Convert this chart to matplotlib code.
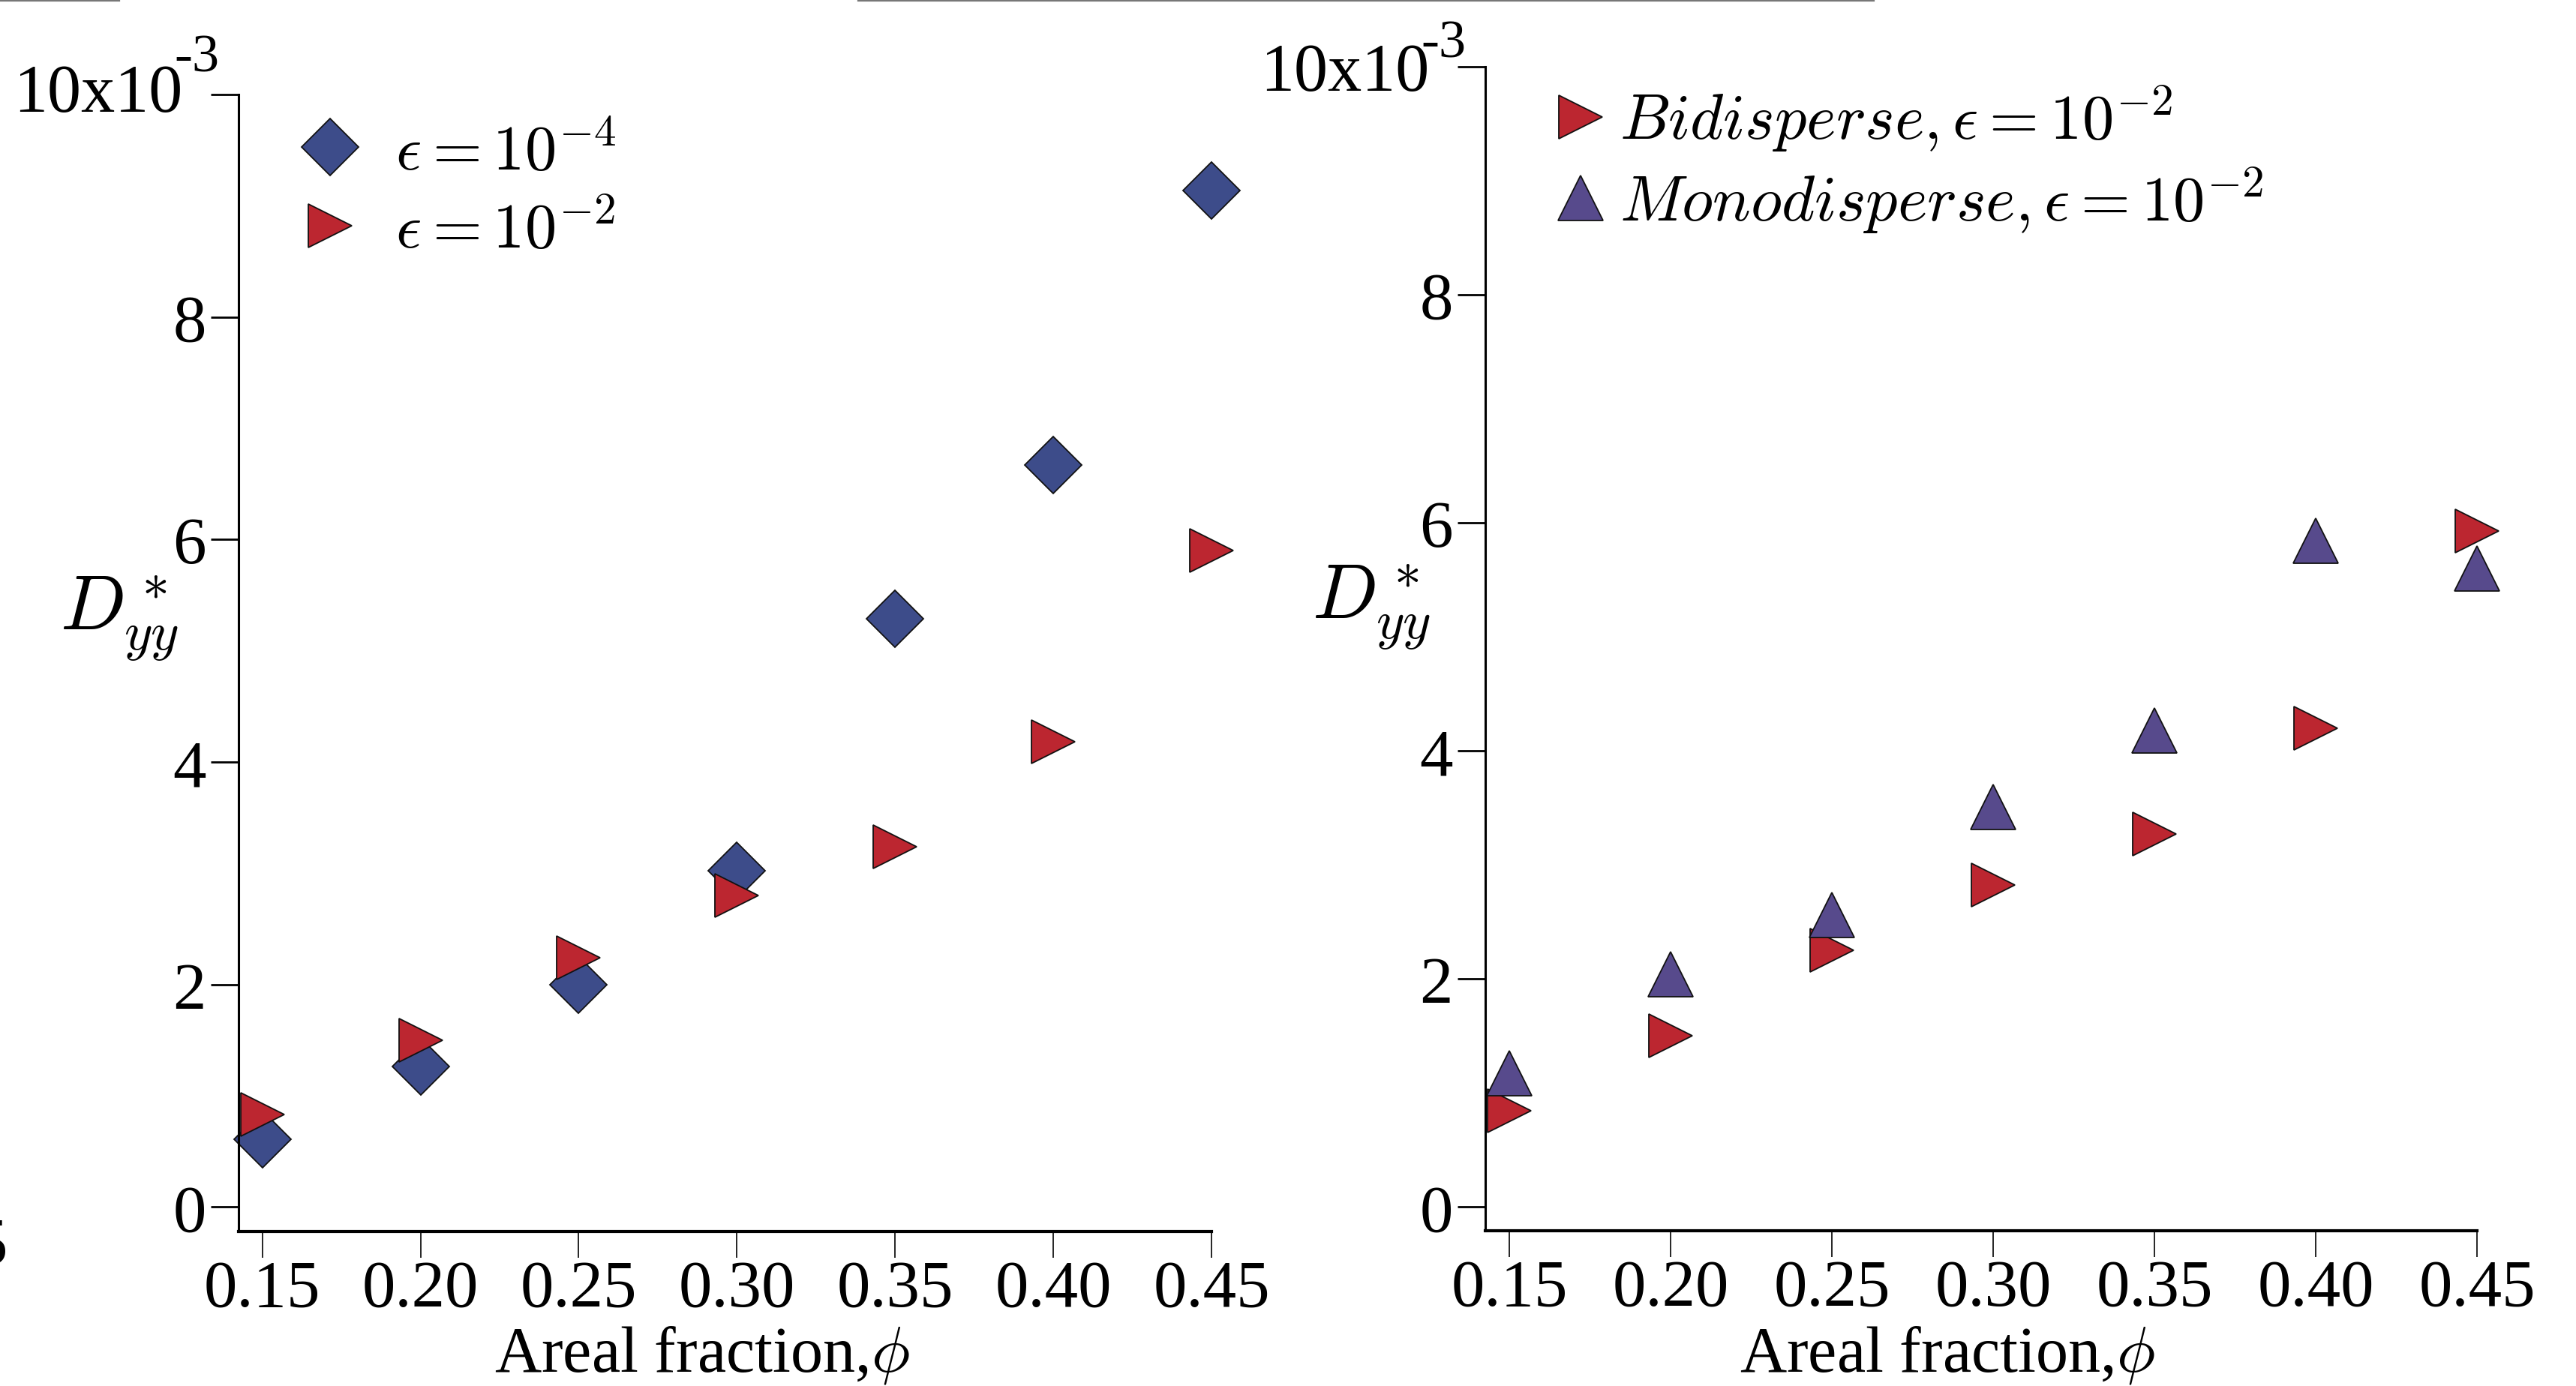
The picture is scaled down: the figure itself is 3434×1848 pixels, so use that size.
import matplotlib
matplotlib.use("Agg")
import matplotlib.pyplot as plt
from matplotlib.lines import Line2D

plt.rcParams['font.family'] = ['Liberation Serif', 'DejaVu Serif']
plt.rcParams['mathtext.fontset'] = 'cm'

# ---- data (D*_yy in units of 1e-3) ----
phi = [0.15, 0.20, 0.25, 0.30, 0.35, 0.40, 0.45]
left_eps4 = [0.61, 1.26, 2.00, 3.02, 5.29, 6.67, 9.14]
left_eps2 = [0.83, 1.50, 2.24, 2.80, 3.24, 4.18, 5.90]
right_bi = [0.84, 1.50, 2.25, 2.82, 3.27, 4.20, 5.93]
right_mono = [1.17, 2.04, 2.56, 3.51, 4.18, 5.84, 5.60]

xticks = [0.15, 0.20, 0.25, 0.30, 0.35, 0.40, 0.45]
xticklabels = ['0.15', '0.20', '0.25', '0.30', '0.35', '0.40', '0.45']
yticks = [0, 2, 4, 6, 8, 10]
yticklabels = ['0', '2', '4', '6', '8', '']

lab_eps4 = r'$\epsilon = 10^{-4}$'
lab_eps2 = r'$\epsilon = 10^{-2}$'
lab_bi = r'$Bidisperse, \epsilon = 10^{-2}$'
lab_mono = r'$Monodisperse, \epsilon = 10^{-2}$'
xlabel = r'Areal fraction,$\phi$'
ylabel = r'$D^*_{yy}$'

BLUE = '#3D4C8A'
RED = '#BC2630'
PURPLE = '#574A8C'

W, H = 3434, 1849
fig = plt.figure(figsize=(W / 100, H / 100), dpi=100)

def px_axes(x0, x1, ytop, ybot):
    return fig.add_axes([x0 / W, 1 - ybot / H, (x1 - x0) / W, (ybot - ytop) / H])

axL = px_axes(318, 1615, 127, 1643)
axR = px_axes(1980, 3302, 90, 1642)

TICK_FS = 64
# (text dy, superscript dy) in points for the 10x10^-3 label
sci_offsets = {0: (0, 35), 1: (-6, 22)}
for i, (ax, ybot) in enumerate(((axL, -0.22), (axR, -0.21))):
    ax.set_xlim(0.1425, 0.45)
    ax.set_ylim(ybot, 10)
    for s in ('top', 'right'):
        ax.spines[s].set_visible(False)
    ax.spines['left'].set_linewidth(2.2)
    ax.spines['bottom'].set_linewidth(3.0)
    ax.set_xticks(xticks)
    ax.set_xticklabels(xticklabels)
    ax.set_yticks(yticks)
    ax.set_yticklabels(yticklabels)
    ax.tick_params(axis='x', direction='out', length=25, width=1.2, pad=1,
                   labelsize=TICK_FS)
    ax.tick_params(axis='y', direction='out', length=27, width=2.0, pad=4,
                   labelsize=TICK_FS)
    ax.set_xlabel(xlabel, fontsize=62, va='baseline')
    ax.set_ylabel(ylabel, fontsize=74, rotation=0, ha='center', va='center')
    dy_t, dy_s = sci_offsets[i]
    ax.annotate('10x10', xy=(0, 10), xycoords=('axes fraction', 'data'),
                xytext=(-54, dy_t), textcoords='offset points',
                ha='right', va='center', fontsize=65)
    ax.annotate('-3', xy=(0, 10), xycoords=('axes fraction', 'data'),
                xytext=(-62, dy_s), textcoords='offset points',
                ha='left', va='center', fontsize=52)

axL.xaxis.set_label_coords((936 - 318) / 1297, (1643 - 1829) / 1516)
axL.yaxis.set_label_coords((159 - 318) / 1297, (1643 - 825) / 1516)
axR.xaxis.set_label_coords((2596 - 1980) / 1322, (1642 - 1829) / 1552)
axR.yaxis.set_label_coords((1828 - 1980) / 1322, (1642 - 810) / 1552)

mk = dict(linestyle='none', markeredgecolor='#111111', markeredgewidth=1.3)
hD = axL.plot(phi, left_eps4, marker='D', markersize=38.5, color=BLUE,
              label=lab_eps4, **mk)[0]
hR1 = axL.plot(phi, left_eps2, marker='>', markersize=42, color=RED,
               label=lab_eps2, **mk)[0]
hR2 = axR.plot(phi, right_bi, marker='>', markersize=42, color=RED,
               label=lab_bi, **mk)[0]
hM = axR.plot(phi, right_mono, marker='^', markersize=43, color=PURPLE,
              label=lab_mono, **mk)[0]
for h in (hD, hR1, hR2, hM):
    h.set_clip_on(False)

LEG_FS = 61
axL.legend(handles=[hD, hR1], loc='upper left', frameon=False,
           bbox_to_anchor=(398 / W, 1 - 166 / H), bbox_transform=fig.transFigure,
           fontsize=LEG_FS, handlelength=1.0, handletextpad=0.52,
           borderpad=0, borderaxespad=0, labelspacing=0.3, numpoints=1)
axR.legend(handles=[hR2, hM], loc='upper left', frameon=False,
           bbox_to_anchor=(2073 / W, 1 - 112 / H), bbox_transform=fig.transFigure,
           fontsize=LEG_FS, handlelength=0.8, handletextpad=0.22,
           borderpad=0, borderaxespad=0, labelspacing=0.17, numpoints=1)

# cropped remnants at the edges of the original figure
fig.add_artist(Line2D([0, 159 / W], [1 - 1.5 / H] * 2, color='#777777', lw=1.6))
fig.add_artist(Line2D([1144 / W, 2498 / W], [1 - 1.5 / H] * 2, color='#777777', lw=1.6))
fig.text(10 / W, 1 - 1663 / H, '5', ha='right', va='center', fontsize=64)

fig.savefig('out.png', dpi=100)
